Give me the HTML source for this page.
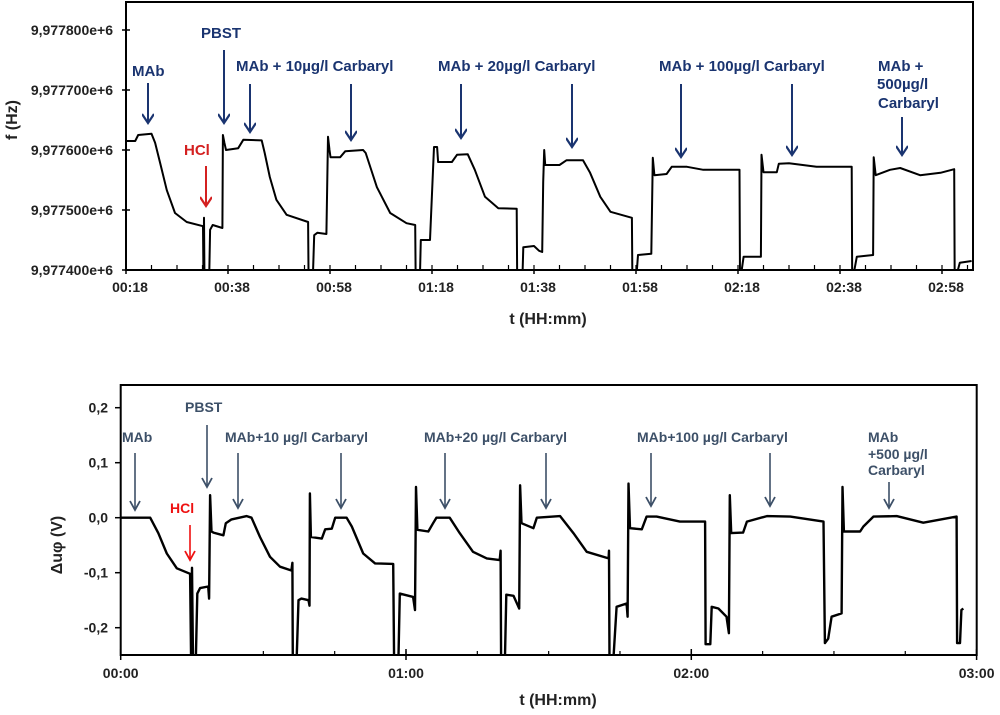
<!DOCTYPE html>
<html><head><meta charset="utf-8"><style>
body{margin:0;background:#fff;}
svg text{font-family:"Liberation Sans",Arial,sans-serif;font-weight:bold;}
</style></head><body>
<svg id="fig" width="1000" height="710" viewBox="0 0 1000 710" xmlns="http://www.w3.org/2000/svg">
<defs>
<clipPath id="clipTop"><rect x="126" y="2" width="847" height="268"/></clipPath>
<clipPath id="clipBot"><rect x="120.7" y="385" width="856" height="270"/></clipPath>
<marker id="arrN" markerWidth="12" markerHeight="12" refX="6" refY="10" orient="0" markerUnits="userSpaceOnUse"><path d="M0,1 L6,10 L12,1" fill="none" stroke="#1a3470" stroke-width="2.2"/></marker>
<marker id="arrR" markerWidth="12" markerHeight="12" refX="6" refY="10" orient="0" markerUnits="userSpaceOnUse"><path d="M0,1 L6,10 L12,1" fill="none" stroke="#d42020" stroke-width="2.2"/></marker>
<marker id="arrS" markerWidth="12" markerHeight="12" refX="6" refY="10" orient="0" markerUnits="userSpaceOnUse"><path d="M1,1 L6,10 L11,1" fill="none" stroke="#3d5068" stroke-width="1.8"/></marker>
<marker id="arrR2" markerWidth="12" markerHeight="12" refX="6" refY="10" orient="0" markerUnits="userSpaceOnUse"><path d="M1,1 L6,10 L11,1" fill="none" stroke="#ee1111" stroke-width="1.8"/></marker>
</defs>
<g id="top"></g>
<g id="bot"></g>

<g fill="#1a3470" font-size="15">
<text x="132" y="76">MAb</text>
<line x1="148" y1="83" x2="148" y2="123" stroke="#1a3470" stroke-width="2" marker-end="url(#arrN)"/>
<text x="184" y="155" fill="#d42020">HCl</text>
<line x1="206" y1="166" x2="206" y2="206" stroke="#d42020" stroke-width="2" marker-end="url(#arrR)"/>
<text x="201" y="38">PBST</text>
<line x1="224" y1="50" x2="224" y2="123" stroke="#1a3470" stroke-width="2" marker-end="url(#arrN)"/>
<text x="236" y="71">MAb + 10µg/l Carbaryl</text>
<line x1="250" y1="84" x2="250" y2="132" stroke="#1a3470" stroke-width="2" marker-end="url(#arrN)"/>
<line x1="351" y1="84" x2="351" y2="140" stroke="#1a3470" stroke-width="2" marker-end="url(#arrN)"/>
<text x="438" y="71">MAb + 20µg/l Carbaryl</text>
<line x1="461" y1="84" x2="461" y2="138" stroke="#1a3470" stroke-width="2" marker-end="url(#arrN)"/>
<line x1="572" y1="84" x2="572" y2="147" stroke="#1a3470" stroke-width="2" marker-end="url(#arrN)"/>
<text x="659" y="71">MAb + 100µg/l Carbaryl</text>
<line x1="681" y1="84" x2="681" y2="157" stroke="#1a3470" stroke-width="2" marker-end="url(#arrN)"/>
<line x1="792" y1="84" x2="792" y2="155" stroke="#1a3470" stroke-width="2" marker-end="url(#arrN)"/>
<text x="878" y="71">MAb +</text>
<text x="877" y="89">500µg/l</text>
<text x="878" y="108">Carbaryl</text>
<line x1="902" y1="117" x2="902" y2="155" stroke="#1a3470" stroke-width="2" marker-end="url(#arrN)"/>
</g>

<g fill="#3d5068" font-size="14">
<text x="122" y="442">MAb</text>
<line x1="135" y1="453" x2="135" y2="510" stroke="#3d5068" stroke-width="1.6" marker-end="url(#arrS)"/>
<text x="170" y="513" fill="#ee1111">HCl</text>
<line x1="190" y1="525" x2="190" y2="560" stroke="#ee1111" stroke-width="1.6" marker-end="url(#arrR2)"/>
<text x="185" y="412">PBST</text>
<line x1="207" y1="425" x2="207" y2="487" stroke="#3d5068" stroke-width="1.6" marker-end="url(#arrS)"/>
<text x="225" y="442">MAb+10 µg/l Carbaryl</text>
<line x1="238" y1="453" x2="238" y2="508" stroke="#3d5068" stroke-width="1.6" marker-end="url(#arrS)"/>
<line x1="341" y1="453" x2="341" y2="508" stroke="#3d5068" stroke-width="1.6" marker-end="url(#arrS)"/>
<text x="424" y="442">MAb+20 µg/l Carbaryl</text>
<line x1="445" y1="453" x2="445" y2="508" stroke="#3d5068" stroke-width="1.6" marker-end="url(#arrS)"/>
<line x1="546" y1="453" x2="546" y2="508" stroke="#3d5068" stroke-width="1.6" marker-end="url(#arrS)"/>
<text x="637" y="442">MAb+100 µg/l Carbaryl</text>
<line x1="651" y1="453" x2="651" y2="506" stroke="#3d5068" stroke-width="1.6" marker-end="url(#arrS)"/>
<line x1="770" y1="453" x2="770" y2="506" stroke="#3d5068" stroke-width="1.6" marker-end="url(#arrS)"/>
<text x="868" y="442">MAb</text>
<text x="868" y="459">+500 µg/l</text>
<text x="868" y="475">Carbaryl</text>
<line x1="889" y1="482" x2="889" y2="508" stroke="#3d5068" stroke-width="1.6" marker-end="url(#arrS)"/>
</g>
</svg>
<script>
const topTime=[18,19.8,20.4,23,23.7,24.7,26,27.6,29.9,33.1,33.2,33.3,33.4,34.3,34.5,35,36.9,37,37.3,37.6,40,41,44.6,45.2,46.2,47.5,49.5,53.7,53.8,54.6,54.9,55.5,57.3,57.6,57.9,58.1,60,61,64.5,65,67.2,69.8,73,74.7,74.8,75.6,75.8,77.6,78.4,79,79.2,81.9,82.9,85,86.4,88.4,91,94.6,94.7,95.7,95.9,98,99,99.6,99.8,100,100.2,103,104.4,107.6,109,111,113,117.2,117.3,118,118.4,121,121.3,121.6,124,125,128,131.2,138.3,138.4,139.1,142.5,142.6,143,145.6,146,148,153.4,160.3,160.4,161.3,164.5,164.6,165,167.8,169.8,173.7,177.7,180.4,180.5,181.5,183.8];
const topFreq=[615,615,625,627,612,578,533,495,480,473,380,487,380,380,467,475,470,625,612,600,603,617,616,595,555,517,492,480,380,380,458,462,460,622,600,588,588,598,600,595,538,495,478,475,380,380,450,450,605,605,580,580,592,593,567,522,503,502,380,380,438,440,432,430,547,600,575,575,583,583,562,522,497,487,380,380,425,427,587,558,560,572,572,567,567,380,422,422,592,563,563,577,578,572,572,380,422,425,588,558,567,570,558,562,568,380,412,415];
const topYTicks=[400,500,600,700,800];
const topYLabels=["9,977400e+6","9,977500e+6","9,977600e+6","9,977700e+6","9,977800e+6"];
const topXTicks=[18,38,58,78,98,118,138,158,178];
const topXLabels=["00:18","00:38","00:58","01:18","01:38","01:58","02:18","02:38","02:58"];

const botTime=[0,6.2,7.9,9.7,11.8,14.6,14.8,15.0,15.2,15.8,16.1,16.7,18.4,18.6,18.8,19.1,19.5,21.6,22.1,23.3,26.5,27.5,29.3,31.4,33.5,35.9,36.1,36.2,37,37.4,38,39.5,39.7,39.8,40,42.3,43,44.4,45.1,47.5,48.6,51,53.5,57.3,57.5,58.4,58.7,61.5,61.9,62.1,62.4,64.7,65.7,66.4,69.2,71.3,74.1,77,79.7,79.9,80,80.8,81.1,82.6,83.8,84,84.3,86.8,87.5,92.4,95.2,98,102.6,102.7,102.8,103.6,104.3,106.4,106.6,106.8,107.1,109.6,110.6,112.7,117.6,122.9,123,124,124.3,125.7,127.4,127.9,128.1,128.4,130.9,131.7,135.9,140.8,147.8,148.1,148.8,149.5,151.6,151.8,152.1,155.5,156.2,158.3,163.2,168.8,175.8,175.9,176.5,176.8,177.2];
const botVolt=[0,0,-0.028,-0.065,-0.092,-0.102,-0.26,-0.091,-0.26,-0.26,-0.138,-0.128,-0.125,-0.147,0.041,-0.025,-0.027,-0.032,-0.01,-0.003,0.003,0,-0.035,-0.071,-0.089,-0.096,-0.082,-0.26,-0.26,-0.15,-0.147,-0.15,-0.16,0.044,-0.035,-0.038,-0.021,-0.02,0,0,-0.016,-0.065,-0.083,-0.084,-0.26,-0.26,-0.138,-0.144,-0.168,0.056,-0.022,-0.025,-0.01,0,0,-0.028,-0.062,-0.074,-0.077,-0.06,-0.26,-0.26,-0.14,-0.142,-0.165,0.059,-0.01,-0.019,0,0.003,-0.028,-0.062,-0.074,-0.06,-0.26,-0.26,-0.162,-0.156,-0.18,0.062,-0.019,-0.021,0.002,0.002,-0.007,-0.007,-0.23,-0.23,-0.162,-0.165,-0.18,-0.21,0.041,-0.028,-0.027,-0.007,0.003,0.002,-0.007,-0.228,-0.22,-0.18,-0.174,0.056,-0.025,-0.025,-0.016,0.002,0.003,-0.009,0.002,-0.228,-0.228,-0.168,-0.165];
const botYTicks=[-0.2,-0.1,0,0.1,0.2];
const botYLabels=["-0,2","-0,1","0,0","0,1","0,2"];
const botXTicks=[0,60,120,180];
const botXLabels=["00:00","01:00","02:00","03:00"];

const NS="http://www.w3.org/2000/svg";
function mk(parent,tag,attrs,txt){const e=document.createElementNS(NS,tag);for(const k in attrs)e.setAttribute(k,attrs[k]);if(txt!==undefined)e.textContent=txt;parent.appendChild(e);return e;}

const tx=t=>126+(t-18)*5.1;
const ty=v=>270-(v-400)*0.6;
const bx=t=>120.7+t*4.755;
const by=v=>517.7-v*550;

const gt=document.getElementById('top');
let fr=mk(gt,'rect',{x:126,y:2,width:847,height:268,fill:'none',stroke:'#000','stroke-width':2});


topYTicks.forEach((v,i)=>{
  mk(gt,'line',{x1:122,x2:130,y1:ty(v),y2:ty(v),stroke:'#000','stroke-width':1.5});
  const t=mk(gt,'text',{x:113,y:ty(v)+5,'text-anchor':'end','font-size':14,fill:'#222'},topYLabels[i]);
  
  
});
for(let m=18;m<=183;m+=5){mk(gt,'line',{x1:tx(m),x2:tx(m),y1:270,y2:265,stroke:'#000','stroke-width':1.2});}
topXTicks.forEach((m,i)=>{
  mk(gt,'line',{x1:tx(m),x2:tx(m),y1:270,y2:274,stroke:'#000','stroke-width':1.5});
  const t=mk(gt,'text',{x:tx(m)+4,y:292,'text-anchor':'middle','font-size':14,fill:'#222'},topXLabels[i]);
  
  
});
let tt=mk(gt,'text',{x:548,y:324,'text-anchor':'middle','font-size':16,fill:'#222'},'t (HH:mm)');


let yt=mk(gt,'text',{transform:'translate(17,120) rotate(-90)','text-anchor':'middle','font-size':16,fill:'#222','font-weight':'normal'},'f (Hz)');


let tp=mk(gt,'path',{d:topTime.map((t,i)=>(i?'L':'M')+tx(t).toFixed(1)+','+ty(topFreq[i]).toFixed(1)).join(''),fill:'none',stroke:'#000','stroke-width':2,'clip-path':'url(#clipTop)','stroke-linejoin':'round'});



const gb=document.getElementById('bot');
let fb=mk(gb,'rect',{x:120.7,y:385,width:856,height:270,fill:'none',stroke:'#000','stroke-width':2});


botYTicks.forEach((v,i)=>{
  mk(gb,'line',{x1:115,x2:121,y1:by(v),y2:by(v),stroke:'#000','stroke-width':1.5});
  const t=mk(gb,'text',{x:108,y:by(v)+5,'text-anchor':'end','font-size':14,fill:'#222'},botYLabels[i]);
  
  
});
for(let m=15;m<180;m+=15){mk(gb,'line',{x1:bx(m),x2:bx(m),y1:655,y2:651,stroke:'#000','stroke-width':1.2});}
botXTicks.forEach((m,i)=>{
  mk(gb,'line',{x1:bx(m),x2:bx(m),y1:649,y2:660,stroke:'#000','stroke-width':1.5});
  const t=mk(gb,'text',{x:bx(m),y:678,'text-anchor':'middle','font-size':14,fill:'#222'},botXLabels[i]);
  
  
});
let bt=mk(gb,'text',{x:558,y:705,'text-anchor':'middle','font-size':16,fill:'#222'},'t (HH:mm)');


let byt=mk(gb,'text',{transform:'translate(62,545) rotate(-90)','text-anchor':'middle','font-size':16,fill:'#222'},'Δuφ (V)');


let bp=mk(gb,'path',{d:botTime.map((t,i)=>(i?'L':'M')+bx(t).toFixed(1)+','+by(botVolt[i]).toFixed(1)).join(''),fill:'none',stroke:'#000','stroke-width':2.4,'clip-path':'url(#clipBot)','stroke-linejoin':'round'});


</script>
</body></html>
